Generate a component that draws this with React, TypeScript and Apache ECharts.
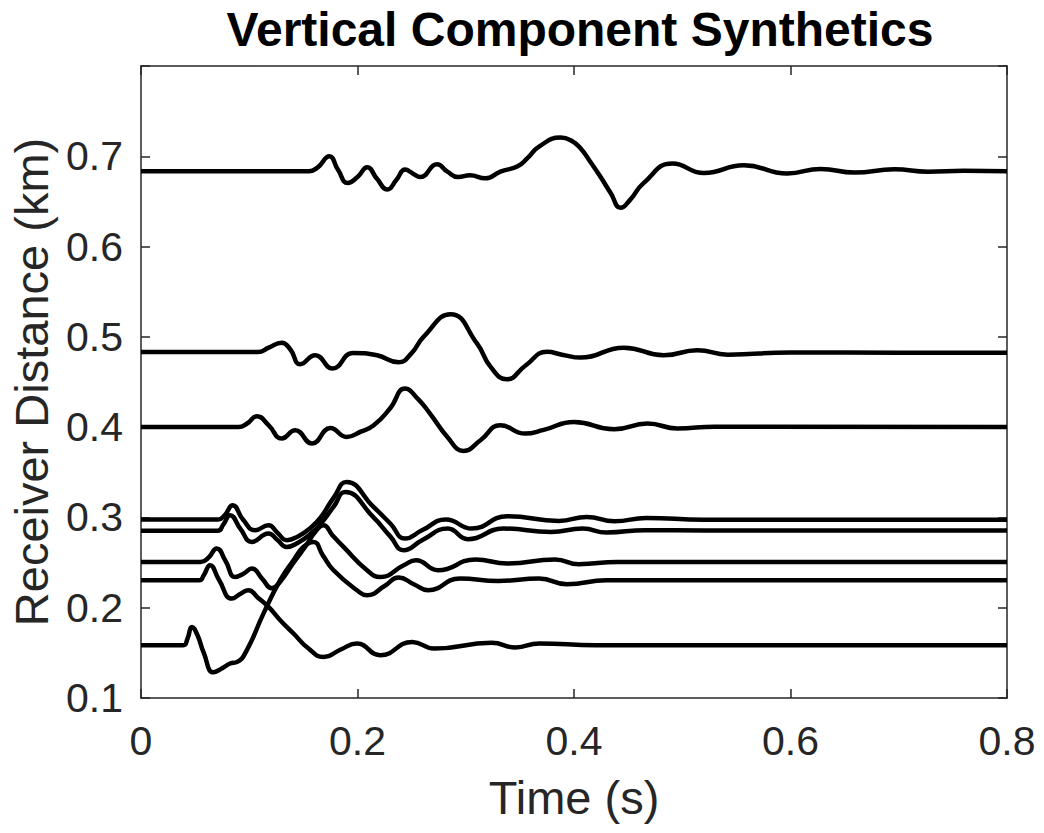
import React, { useEffect, useRef } from "react";
import * as echarts from "echarts";

// ---- data (time in s, trace position in km) ----
const xTicks = [0, 0.2, 0.4, 0.6, 0.8];
const yTicks = [0.1, 0.2, 0.3, 0.4, 0.5, 0.6, 0.7];

const trace683: number[][] = [
  [0, 0.6834], [0.155, 0.6834], [0.163, 0.6875], [0.174, 0.7], [0.182, 0.685], [0.191, 0.6704],
  [0.2, 0.677], [0.209, 0.6878], [0.218, 0.675], [0.2276, 0.6631], [0.236, 0.674], [0.244, 0.6853],
  [0.251, 0.681], [0.258, 0.677], [0.2735, 0.6911], [0.283, 0.683], [0.293, 0.677], [0.304, 0.679],
  [0.318, 0.6756], [0.332, 0.683], [0.348, 0.689], [0.357, 0.698], [0.368, 0.711], [0.3876, 0.7207],
  [0.398, 0.717], [0.406, 0.709], [0.415, 0.694], [0.4246, 0.677], [0.434, 0.659], [0.443, 0.643],
  [0.452, 0.652], [0.464, 0.67], [0.491, 0.692], [0.52, 0.6815], [0.557, 0.69], [0.597, 0.681],
  [0.628, 0.686], [0.659, 0.682], [0.696, 0.6856], [0.727, 0.683], [0.76, 0.684], [0.8, 0.6834],
];

const trace483: number[][] = [
  [0, 0.4833], [0.108, 0.4833], [0.118, 0.488], [0.13, 0.4936], [0.138, 0.486], [0.147, 0.4697],
  [0.161, 0.4796], [0.177, 0.4649], [0.196, 0.4822], [0.218, 0.4796], [0.238, 0.4719], [0.25, 0.482],
  [0.261, 0.5], [0.286, 0.525], [0.3105, 0.4925], [0.323, 0.4667], [0.338, 0.453], [0.355, 0.468],
  [0.375, 0.4834], [0.39, 0.48], [0.406, 0.477], [0.446, 0.488], [0.483, 0.4796], [0.514, 0.4852],
  [0.542, 0.4803], [0.6, 0.4828], [0.7, 0.4825], [0.8, 0.4825],
];

const trace400: number[][] = [
  [0, 0.4002], [0.09, 0.4002], [0.098, 0.404], [0.107, 0.4121], [0.118, 0.402], [0.13, 0.3873],
  [0.1425, 0.3965], [0.158, 0.3818], [0.175, 0.3991], [0.19, 0.3892], [0.203, 0.395], [0.215, 0.4021],
  [0.23, 0.4206], [0.244, 0.4427], [0.256, 0.431], [0.267, 0.415], [0.283, 0.3892], [0.298, 0.3737],
  [0.3136, 0.3855], [0.332, 0.402], [0.355, 0.3929], [0.372, 0.397], [0.4, 0.4058], [0.437, 0.3977],
  [0.468, 0.404], [0.4955, 0.3985], [0.53, 0.4005], [0.8, 0.4002],
];

const trace297: number[][] = [
  [0, 0.2977], [0.071, 0.2977], [0.077, 0.302], [0.0848, 0.3135], [0.094, 0.298], [0.1055, 0.2858],
  [0.1178, 0.2914], [0.126, 0.283], [0.1348, 0.2748], [0.145, 0.279], [0.156, 0.2877], [0.166, 0.3],
  [0.178, 0.322], [0.19, 0.3393], [0.2148, 0.3116], [0.2303, 0.2933], [0.244, 0.2766], [0.26, 0.286],
  [0.2817, 0.2977], [0.3056, 0.2877], [0.3385, 0.3013], [0.3861, 0.2961], [0.4118, 0.3006],
  [0.4375, 0.2958], [0.4667, 0.2994], [0.52, 0.2975], [0.8, 0.2975],
];

const trace285: number[][] = [
  [0, 0.2852], [0.071, 0.2852], [0.076, 0.292], [0.0823, 0.3024], [0.092, 0.287], [0.1024, 0.2729],
  [0.1178, 0.2822], [0.126, 0.275], [0.1348, 0.2673], [0.145, 0.272], [0.156, 0.281], [0.166, 0.293],
  [0.178, 0.312], [0.1887, 0.3282], [0.2148, 0.3], [0.2303, 0.279], [0.2426, 0.2637], [0.26, 0.275],
  [0.2835, 0.2877], [0.3019, 0.2759], [0.3349, 0.2877], [0.3788, 0.2839], [0.4081, 0.2877],
  [0.43, 0.2833], [0.466, 0.2859], [0.52, 0.2855], [0.8, 0.2855],
];

const trace251: number[][] = [
  [0, 0.2507], [0.055, 0.2507], [0.062, 0.255], [0.07, 0.2656], [0.078, 0.252], [0.087, 0.2341],
  [0.095, 0.238], [0.1024, 0.2434], [0.112, 0.232], [0.1209, 0.2215], [0.128, 0.228], [0.1409, 0.25],
  [0.152, 0.268], [0.161, 0.284], [0.1686, 0.2914], [0.177, 0.28], [0.1871, 0.2673], [0.2088, 0.2415],
  [0.221, 0.2341], [0.2427, 0.247], [0.254, 0.2526], [0.2744, 0.2415], [0.309, 0.2534],
  [0.3385, 0.249], [0.3825, 0.2534], [0.4044, 0.2482], [0.44, 0.2507], [0.8, 0.2507],
];

const trace158: number[][] = [
  [0, 0.1585], [0.039, 0.1585], [0.043, 0.166], [0.047, 0.1787], [0.052, 0.17], [0.058, 0.15],
  [0.0669, 0.1284], [0.075, 0.133], [0.0823, 0.1382], [0.089, 0.14], [0.0978, 0.153], [0.1132, 0.1937],
  [0.1286, 0.2305], [0.1409, 0.2526], [0.15, 0.2673], [0.1594, 0.2729], [0.168, 0.258],
  [0.1779, 0.2415], [0.1995, 0.2194], [0.2088, 0.2139], [0.225, 0.224], [0.238, 0.2335],
  [0.252, 0.226], [0.2652, 0.2194], [0.2946, 0.2323], [0.33, 0.2297], [0.3678, 0.2323],
  [0.3934, 0.226], [0.43, 0.2305], [0.8, 0.2305],
];

const trace231: number[][] = [
  [0, 0.2305], [0.054, 0.2305], [0.058, 0.236], [0.0638, 0.2471], [0.072, 0.231], [0.0839, 0.2102],
  [0.092, 0.2155], [0.0993, 0.2194], [0.108, 0.211], [0.1178, 0.2009], [0.1286, 0.1862],
  [0.1409, 0.1714], [0.1545, 0.155], [0.1686, 0.1455], [0.185, 0.154], [0.1995, 0.1604],
  [0.221, 0.1474], [0.2506, 0.1621], [0.2708, 0.1548], [0.3239, 0.1611], [0.3459, 0.156],
  [0.3678, 0.1604], [0.42, 0.1585], [0.8, 0.1585],
];

const traces = [trace683, trace483, trace400, trace297, trace285, trace251, trace158, trace231];

const FONT = '"Liberation Sans", Arial, Helvetica, sans-serif';
const AXIS_COLOR = "#262626";

export default function App() {
  const ref = useRef<HTMLDivElement>(null);

  useEffect(() => {
    if (!ref.current) return;
    const chart = echarts.init(ref.current, null, { renderer: "svg" });

    const fmtX = (v: number) => {
      const hit = xTicks.find((t) => Math.abs(t - v) < 1e-6);
      if (hit === undefined) return "";
      return hit === 0 ? "0" : hit.toFixed(1);
    };
    const fmtY = (v: number) => {
      const hit = yTicks.find((t) => Math.abs(t - v) < 1e-6);
      return hit === undefined ? "" : hit.toFixed(1);
    };

    const lineStyle = { color: AXIS_COLOR, width: 1.5 };
    const tickStyle = { show: true, inside: true, length: 9, lineStyle: { color: AXIS_COLOR, width: 1.5 } };

    chart.setOption({
      animation: false,
      backgroundColor: "#ffffff",
      title: {
        text: "Vertical Component Synthetics",
        left: 575,
        top: 0,
        textAlign: "center",
        textStyle: { fontFamily: FONT, fontSize: 48, fontWeight: "bold", color: "#000000" },
      },
      grid: { left: 141, right: 37, top: 66, bottom: 135, containLabel: false },
      xAxis: [
        {
          type: "value",
          min: 0,
          max: 0.8,
          interval: 0.2,
          position: "bottom",
          axisLine: { show: true, onZero: false, lineStyle },
          axisTick: tickStyle,
          axisLabel: { fontFamily: FONT, fontSize: 41, color: AXIS_COLOR, margin: 22, formatter: fmtX },
          splitLine: { show: false },
          name: "Time (s)",
          nameLocation: "middle",
          nameGap: 76,
          nameTextStyle: { fontFamily: FONT, fontSize: 47, color: AXIS_COLOR },
        },
        {
          type: "value",
          min: 0,
          max: 0.8,
          interval: 0.2,
          position: "top",
          axisLine: { show: true, onZero: false, lineStyle },
          axisTick: tickStyle,
          axisLabel: { show: false },
          splitLine: { show: false },
        },
      ],
      yAxis: [
        {
          type: "value",
          min: 0.1,
          max: 0.8,
          interval: 0.1,
          position: "left",
          axisLine: { show: true, onZero: false, lineStyle },
          axisTick: tickStyle,
          axisLabel: { fontFamily: FONT, fontSize: 41, color: AXIS_COLOR, margin: 18, formatter: fmtY },
          splitLine: { show: false },
          name: "Receiver Distance (km)",
          nameLocation: "middle",
          nameGap: 86,
          nameTextStyle: { fontFamily: FONT, fontSize: 47, color: AXIS_COLOR },
        },
        {
          type: "value",
          min: 0.1,
          max: 0.8,
          interval: 0.1,
          position: "right",
          axisLine: { show: true, onZero: false, lineStyle },
          axisTick: tickStyle,
          axisLabel: { show: false },
          splitLine: { show: false },
        },
      ],
      series: traces.map((d, i) => ({
        name: "trace" + i,
        type: "line",
        xAxisIndex: 0,
        yAxisIndex: 0,
        data: d,
        showSymbol: false,
        symbol: "none",
        smooth: 0.5,
        lineStyle: { color: "#000000", width: 4.5 },
        z: 3,
      })),
    });

    return () => chart.dispose();
  }, []);

  return (
    <div
      ref={ref}
      style={{ position: "absolute", left: 0, top: 0, width: 1044, height: 833, background: "#ffffff" }}
    />
  );
}
